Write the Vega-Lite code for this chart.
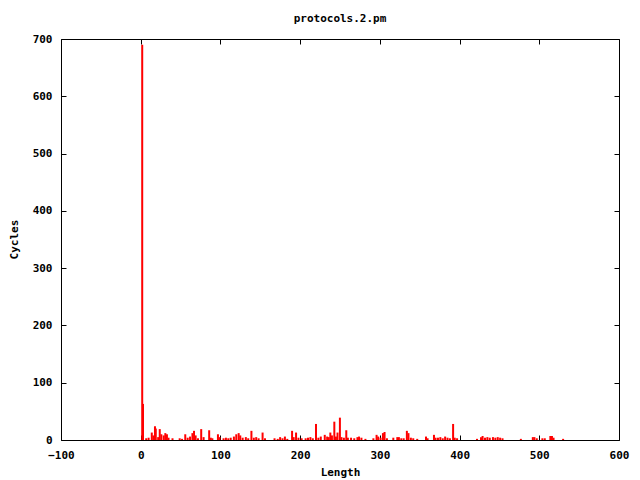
{
  "$schema": "https://vega.github.io/schema/vega-lite/v6.json",
  "autosize": {"type": "none"},
  "padding": {"left": 61, "top": 39, "right": 21, "bottom": 40},
  "width": 558,
  "height": 401,
  "background": "white",
  "title": {"text": "protocols.2.pm", "anchor": "middle", "offset": 9, "font": "DejaVu Sans Mono", "fontSize": 11, "fontWeight": "bold", "color": "black"},
  "config": {
    "view": {"stroke": "black", "strokeWidth": 1},
    "axis": {"labelFont": "DejaVu Sans Mono", "labelFontSize": 11, "labelFontWeight": "bold", "labelColor": "black", "titleFont": "DejaVu Sans Mono", "titleFontSize": 11, "titleFontWeight": "bold", "titleColor": "black", "grid": false, "domain": false, "tickColor": "black", "tickSize": -5, "tickWidth": 1, "labelFlush": false, "labelOverlap": false, "labelBound": false}
  },
  "data": {"values": [
    {"Length": 0, "Cycles": 690}, {"Length": 1, "Cycles": 63}, {"Length": 5, "Cycles": 3}, {"Length": 8, "Cycles": 4},
    {"Length": 12, "Cycles": 13}, {"Length": 14, "Cycles": 8}, {"Length": 16, "Cycles": 24}, {"Length": 17, "Cycles": 20},
    {"Length": 20, "Cycles": 5}, {"Length": 22, "Cycles": 19}, {"Length": 24, "Cycles": 10}, {"Length": 27, "Cycles": 8},
    {"Length": 29, "Cycles": 12}, {"Length": 31, "Cycles": 10}, {"Length": 33, "Cycles": 4}, {"Length": 38, "Cycles": 3},
    {"Length": 47, "Cycles": 3}, {"Length": 50, "Cycles": 2}, {"Length": 54, "Cycles": 10}, {"Length": 57, "Cycles": 4},
    {"Length": 60, "Cycles": 6}, {"Length": 63, "Cycles": 12}, {"Length": 65, "Cycles": 16}, {"Length": 67, "Cycles": 8},
    {"Length": 70, "Cycles": 3}, {"Length": 74, "Cycles": 19}, {"Length": 77, "Cycles": 5}, {"Length": 84, "Cycles": 17},
    {"Length": 86, "Cycles": 4}, {"Length": 88, "Cycles": 3}, {"Length": 95, "Cycles": 10}, {"Length": 97, "Cycles": 5},
    {"Length": 102, "Cycles": 3}, {"Length": 105, "Cycles": 4}, {"Length": 108, "Cycles": 3}, {"Length": 111, "Cycles": 4},
    {"Length": 115, "Cycles": 6}, {"Length": 118, "Cycles": 10}, {"Length": 121, "Cycles": 12}, {"Length": 123, "Cycles": 8},
    {"Length": 126, "Cycles": 4}, {"Length": 130, "Cycles": 5}, {"Length": 133, "Cycles": 3}, {"Length": 137, "Cycles": 16},
    {"Length": 140, "Cycles": 4}, {"Length": 143, "Cycles": 5}, {"Length": 146, "Cycles": 3}, {"Length": 151, "Cycles": 13},
    {"Length": 154, "Cycles": 3}, {"Length": 166, "Cycles": 3}, {"Length": 170, "Cycles": 2}, {"Length": 173, "Cycles": 5},
    {"Length": 176, "Cycles": 3}, {"Length": 179, "Cycles": 6}, {"Length": 182, "Cycles": 2}, {"Length": 188, "Cycles": 16},
    {"Length": 190, "Cycles": 5}, {"Length": 193, "Cycles": 13}, {"Length": 196, "Cycles": 4}, {"Length": 200, "Cycles": 3},
    {"Length": 205, "Cycles": 3}, {"Length": 208, "Cycles": 4}, {"Length": 211, "Cycles": 5}, {"Length": 214, "Cycles": 3},
    {"Length": 218, "Cycles": 28}, {"Length": 221, "Cycles": 4}, {"Length": 224, "Cycles": 6}, {"Length": 229, "Cycles": 9},
    {"Length": 232, "Cycles": 6}, {"Length": 234, "Cycles": 5}, {"Length": 236, "Cycles": 13}, {"Length": 238, "Cycles": 8},
    {"Length": 241, "Cycles": 32}, {"Length": 243, "Cycles": 6}, {"Length": 245, "Cycles": 13}, {"Length": 248, "Cycles": 39},
    {"Length": 250, "Cycles": 5}, {"Length": 253, "Cycles": 4}, {"Length": 256, "Cycles": 17}, {"Length": 258, "Cycles": 4},
    {"Length": 262, "Cycles": 4}, {"Length": 266, "Cycles": 3}, {"Length": 270, "Cycles": 5}, {"Length": 272, "Cycles": 6},
    {"Length": 275, "Cycles": 4}, {"Length": 280, "Cycles": 2}, {"Length": 290, "Cycles": 3}, {"Length": 294, "Cycles": 9},
    {"Length": 296, "Cycles": 6}, {"Length": 299, "Cycles": 4}, {"Length": 302, "Cycles": 12}, {"Length": 304, "Cycles": 14},
    {"Length": 307, "Cycles": 3}, {"Length": 315, "Cycles": 4}, {"Length": 320, "Cycles": 5}, {"Length": 322, "Cycles": 5},
    {"Length": 325, "Cycles": 3}, {"Length": 328, "Cycles": 3}, {"Length": 332, "Cycles": 16}, {"Length": 334, "Cycles": 12},
    {"Length": 337, "Cycles": 4}, {"Length": 340, "Cycles": 3}, {"Length": 345, "Cycles": 2}, {"Length": 356, "Cycles": 6},
    {"Length": 358, "Cycles": 3}, {"Length": 366, "Cycles": 9}, {"Length": 368, "Cycles": 4}, {"Length": 371, "Cycles": 4},
    {"Length": 374, "Cycles": 5}, {"Length": 377, "Cycles": 3}, {"Length": 380, "Cycles": 6}, {"Length": 383, "Cycles": 4},
    {"Length": 386, "Cycles": 3}, {"Length": 390, "Cycles": 28}, {"Length": 392, "Cycles": 4}, {"Length": 395, "Cycles": 3},
    {"Length": 420, "Cycles": 2}, {"Length": 425, "Cycles": 5}, {"Length": 427, "Cycles": 7}, {"Length": 430, "Cycles": 4},
    {"Length": 433, "Cycles": 5}, {"Length": 436, "Cycles": 4}, {"Length": 440, "Cycles": 5}, {"Length": 443, "Cycles": 4},
    {"Length": 446, "Cycles": 5}, {"Length": 449, "Cycles": 4}, {"Length": 452, "Cycles": 3}, {"Length": 475, "Cycles": 2},
    {"Length": 490, "Cycles": 5}, {"Length": 492, "Cycles": 5}, {"Length": 495, "Cycles": 3}, {"Length": 502, "Cycles": 3},
    {"Length": 505, "Cycles": 3}, {"Length": 512, "Cycles": 7}, {"Length": 514, "Cycles": 7}, {"Length": 516, "Cycles": 4},
    {"Length": 528, "Cycles": 2}
  ]},
  "layer": [
    {
      "mark": {"type": "rule", "color": "#ff0000", "strokeWidth": 2, "xOffset": 1.5},
      "encoding": {
        "x": {"field": "Length", "type": "quantitative", "scale": {"domain": [-100, 600], "nice": false, "zero": false},
              "axis": {"orient": "bottom", "values": [-100, 0, 100, 200, 300, 400, 500, 600], "labelPadding": 14, "title": "Length", "titleX": 279, "titleY": 32, "titleBaseline": "middle", "titlePadding": 0}},
        "y": {"field": "Cycles", "type": "quantitative", "scale": {"domain": [0, 700], "nice": false},
              "axis": {"orient": "left", "values": [0, 100, 200, 300, 400, 500, 600, 700], "labelPadding": 14, "title": "Cycles", "titleX": -47, "titleY": 200, "titleAngle": -90, "titleBaseline": "middle", "titleAlign": "center"}},
        "y2": {"datum": 0}
      }
    },
    {
      "mark": {"type": "rule", "opacity": 0},
      "encoding": {
        "x": {"field": "Length", "type": "quantitative", "axis": {"orient": "top", "values": [-100, 0, 100, 200, 300, 400, 500, 600], "labels": false, "title": null}},
        "y": {"field": "Cycles", "type": "quantitative", "axis": {"orient": "right", "values": [0, 100, 200, 300, 400, 500, 600, 700], "labels": false, "title": null}},
        "y2": {"datum": 0}
      }
    }
  ],
  "resolve": {"axis": {"x": "independent", "y": "independent"}}
}
